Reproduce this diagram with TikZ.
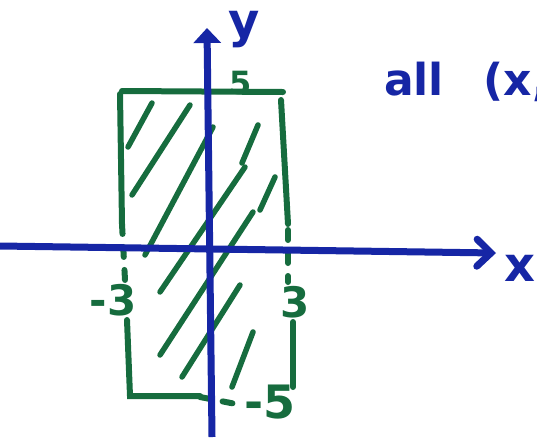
\documentclass[tikz,border=0pt]{standalone}
\usepackage{fontspec}
\setmainfont{DejaVu Sans}
\usetikzlibrary{arrows.meta}
\definecolor{penblue}{RGB}{22,38,165}
\definecolor{pengreen}{RGB}{22,108,62}
\tikzset{
  axis/.style={line width=7pt, penblue},
  edge/.style={line width=6pt, pengreen, line cap=round},
  gapedge/.style={edge, dash pattern=on 10pt off 13pt},
  hatch/.style={line width=5.5pt, pengreen, line cap=round},
  tick/.style={pengreen, font=\bfseries\fontsize{42}{42}\selectfont, inner sep=0pt},
  lbl/.style={penblue, font=\bfseries\fontsize{48}{48}\selectfont, inner sep=0pt}
}
\begin{document}
\begin{tikzpicture}[x=10pt,y=-10pt]
    \useasboundingbox (0,0) rectangle (53.7,43.7);

    % Shaded strip
    \foreach \xa/\ya/\xb/\yb in {15.2/10.3/12.8/14.7, 19.0/10.5/13.2/19.5,
        21.3/12.7/14.5/25.5, 25.8/12.5/24.2/16.3, 24.5/16.7/16.0/29.2,
        27.5/17.7/26.0/21.0, 25.3/21.2/16.0/35.5, 24.0/28.5/18.2/37.7,
        25.3/33.2/23.2/38.7} {
        \draw[hatch] (\xa,\ya) -- (\xb,\yb);
    }

    % Border of the strip
    \draw[edge] (12.2,9.1) -- (28.3,9.2);
    \draw[edge] (12.0,9.4) -- (12.2,22.4);
    \draw[gapedge] (12.2,22.4) -- (12.5,28.0);
    \draw[edge] (12.7,32.0) -- (13.0,39.6) -- (20.0,39.6);
    \draw[gapedge] (20.0,39.7) -- (23.6,40.4);
    \draw[edge] (28.1,10.0) -- (28.8,22.4);
    \draw[gapedge] (28.8,23.0) -- (28.8,28.2);
    \draw[edge] (29.3,32.2) -- (29.3,38.7);

    % Tick values
    \node[tick, font=\bfseries\fontsize{32}{32}\selectfont] (top) at (24.1,8.3) {5};
    \node[tick] (left) at (11.3,30.0) {-3};
    \node[tick] (right) at (29.5,30.2) {3};
    \node[tick, font=\bfseries\fontsize{46}{46}\selectfont] (bottom) at (27.0,40.2) {-5};

    % Axes
    \coordinate (xstart) at (0,24.6);
    \coordinate (xend) at (49.6,25.3);
    \coordinate (ystart) at (21.2,43.7);
    \coordinate (yend) at (20.7,2.8);
    \draw[axis, -{Straight Barb[width=27pt, length=14pt, line cap=round]}] (xstart) -- (xend);
    \draw[axis, -{Triangle[width=27pt, length=15pt]}] (ystart) -- (yend);
    \node[lbl] (xlabel) at (52.0,26.8) {x};
    \node[lbl] (ylabel) at (24.4,3.0) {y};

    % Set description
    \node[lbl, anchor=west, font=\bfseries\fontsize{44}{44}\selectfont] (desc) at (38.4,8.2) {all\hspace{0.9em}(x,};
\end{tikzpicture}
\end{document}
